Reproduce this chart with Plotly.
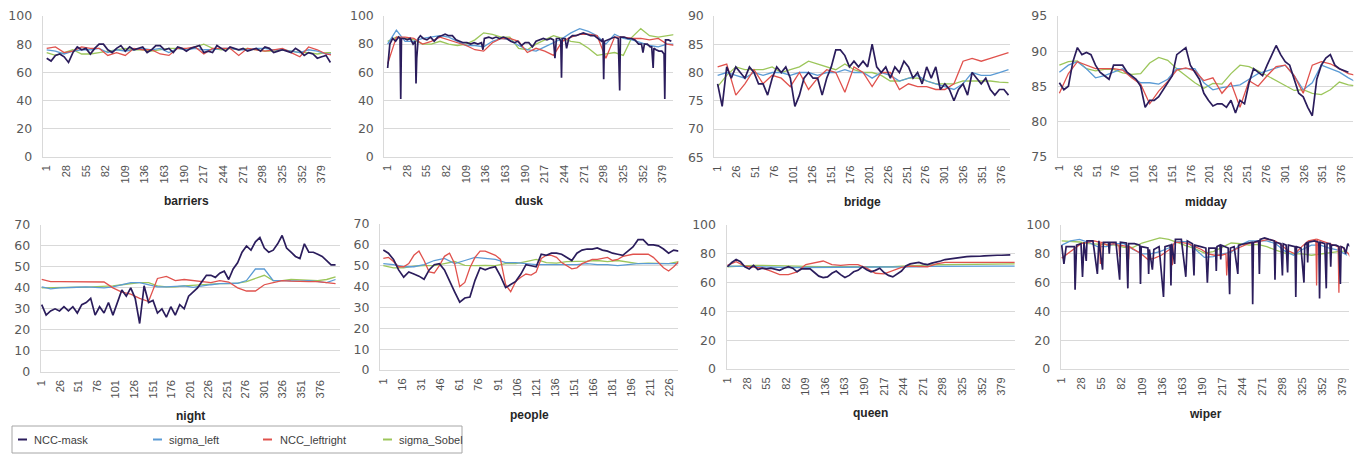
import plotly.graph_objects as go

W, H = 1362, 455
# the page body adds an 8 px margin around the figure; positions below are
# measured on the screenshot, so they are shifted back by that margin
OFF = 8

SERIES = ["NCC-mask", "sigma_left", "NCC_leftright", "sigma_Sobel"]
COLORS = {"NCC-mask": "#2B1D5C", "sigma_left": "#5B9BD5",
          "NCC_leftright": "#E0524D", "sigma_Sobel": "#9CC65B"}

# ---------------- barriers ----------------
barriers_mask = [70, 68, 72, 73, 71, 67, 74, 78, 76, 77, 73, 77, 80, 80, 76, 74, 77, 79, 75, 78,
                 76, 77, 78, 74, 76, 79, 79, 76, 77, 74, 78, 77, 75, 77, 78, 79, 74, 75, 74, 79,
                 77, 75, 78, 77, 76, 77, 75, 76, 77, 75, 78, 77, 74, 75, 76, 75, 74, 77, 75, 72,
                 74, 73, 70, 71, 72, 67]
barriers_left = [76, 75, 73, 75, 76, 76, 77, 74, 76, 75, 76, 77, 76, 77, 74, 77, 76, 77, 76, 76,
                 77, 77, 76, 76, 77, 77, 76, 76, 75, 74, 76, 75, 73, 73]
barriers_lr = [77, 78, 74, 75, 78, 77, 77, 72, 74, 72, 77, 76, 76, 73, 72, 77, 77, 78, 73, 77,
               77, 77, 72, 77, 76, 75, 76, 77, 74, 71, 78, 76, 73, 72]
barriers_sobel = [74, 72, 74, 76, 73, 73, 74, 75, 76, 77, 76, 76, 75, 76, 77, 77, 76, 78, 80, 77,
                  76, 77, 76, 77, 76, 75, 75, 76, 75, 74, 74, 73, 74, 74]

# ---------------- dusk ----------------
dusk_mask_frames = [1, 4, 8, 12, 16, 18, 19, 20, 24, 28, 32, 36, 39, 40, 41, 43, 46, 50, 55, 60,
                    65, 70, 75, 80, 85, 90, 95, 100, 105, 110, 115, 120, 125, 130, 132, 134, 140,
                    145, 150, 155, 160, 165, 170, 175, 180, 185, 190, 195, 200, 205, 210, 215, 220,
                    225, 229, 231, 233, 237, 239, 240, 241, 245, 247, 250, 255, 260, 265, 270, 275,
                    280, 285, 290, 295, 297, 298, 299, 303, 308, 313, 318, 320, 321, 326, 331, 336,
                    341, 346, 350, 352, 354, 358, 362, 364, 366, 367, 370, 374, 378, 381, 382, 383,
                    387, 391]
dusk_mask = [63, 80, 84, 82, 85, 84, 41, 84, 84, 83, 84, 80, 82, 52, 70, 84, 86, 84, 83, 85,
             82, 85, 86, 87, 86, 86, 83, 82, 81, 81, 80, 81, 80, 81, 76, 84, 85,
             84, 85, 84, 85, 84, 82, 81, 82, 79, 81, 81, 78, 82, 83, 84, 83,
             84, 83, 70, 84, 84, 82, 56, 84, 84, 77, 84, 86, 86, 87, 88, 87,
             86, 86, 84, 82, 84, 55, 82, 83, 84, 85, 84, 47, 85, 85, 84, 84,
             83, 80, 80, 74, 80, 80, 78, 78, 63, 77, 76, 75, 75, 73, 41, 83,
             83, 82]
dusk_left = [80, 90, 82, 82, 84, 85, 86, 85, 82, 79, 79, 78, 82, 84, 83, 79, 76, 75, 78, 81,
             84, 88, 91, 89, 86, 80, 87, 84, 83, 81, 79, 78, 80, 80]
dusk_lr = [66, 85, 85, 84, 80, 82, 85, 83, 81, 79, 76, 75, 81, 84, 84, 82, 74, 77, 75, 72,
           82, 85, 87, 87, 86, 70, 85, 85, 84, 84, 83, 84, 80, 79]
dusk_sobel = [82, 85, 84, 83, 80, 80, 82, 80, 79, 80, 83, 88, 87, 85, 85, 77, 76, 80, 83, 86,
              84, 82, 81, 77, 72, 73, 74, 72, 85, 91, 86, 85, 86, 87]

# ---------------- bridge ----------------
bridge_mask = [78, 74, 81, 79, 81, 80, 79, 81, 80, 78, 78, 76, 79, 81, 80, 81, 79, 74, 76, 79,
               80, 79, 79, 76, 79, 81, 84, 84, 83, 81, 82, 81, 82, 81, 85, 81, 80, 81, 79, 81,
               80, 82, 81, 79, 80, 78, 81, 79, 81, 77, 78, 77, 75, 77, 78, 76, 80, 79, 78, 79,
               77, 76, 77, 77, 76]
bridge_left = [79.5, 80, 79.5, 79, 80, 79.5, 80, 80, 79.5, 80, 80, 79.5, 80, 80, 80.5, 80, 80,
               79, 80, 79.5, 78.5, 79, 79.5, 78.5, 78, 77.5, 77, 78, 80, 79.5, 79.5, 80, 80.5]
bridge_lr = [81, 81.5, 76, 78, 80.5, 78, 79.5, 79, 77.5, 80, 77, 79, 80.5, 80, 76.5, 81, 80,
             77.5, 80, 80, 77, 78, 77.5, 77.5, 77, 77, 78, 82, 82.5, 82, 82.5, 83, 83.5]
bridge_sobel = [77.5, 79.5, 81, 80.5, 80.5, 80.5, 81, 80, 80.5, 81, 82, 81.5, 81, 80.5, 81.5,
                80.5, 80, 80, 79.5, 78.5, 78.5, 79, 79, 78.5, 78, 78, 78, 78.5, 78.5, 78.5,
                78.5, 78.3, 78.2]

# ---------------- midday ----------------
midday_mask = [85.5, 84.5, 85, 88.5, 90.5, 89.5, 89.8, 89.5, 88, 87, 86.5, 86, 88, 88, 88, 87,
               86.5, 86, 85, 82, 83, 83, 83.5, 84.5, 85.5, 86.5, 89.5, 90, 90.5, 88, 87, 86, 84,
               83, 82.2, 82.5, 82.5, 82, 83, 81.2, 83, 82.5, 85.5, 87.5, 87, 86.5, 88, 89.5,
               90.8, 89.5, 88.5, 88, 86, 84, 83.5, 82, 80.8, 86, 88, 89, 89.5, 88, 87.5, 87.2, 87]
midday_left = [87, 88, 88.5, 87.5, 86.2, 86.5, 87, 87.5, 86.3, 85.5, 85.5, 85.3, 86, 87.5, 87.5,
               87.5, 85.5, 84.5, 84.8, 85, 85.2, 86, 86.8, 87.2, 87.6, 88, 86.5, 84.5, 85.5, 88,
               87.5, 87, 86.2, 85.5]
midday_lr = [84, 86.8, 88.5, 88, 87.5, 87.5, 87.5, 87.3, 86.2, 85.3, 82.5, 84.3, 85.7, 87.3, 87.6,
             87.2, 85.8, 86.2, 84, 85.5, 82, 85.8, 85, 86.5, 87.8, 88, 86.5, 84, 88, 88.5, 88.2,
             87.5, 86.8, 86.5]
midday_sobel = [88, 88.5, 88.6, 87.5, 87.2, 87.4, 87.4, 86.9, 86.7, 86.8, 88.3, 89.1, 88.7, 87.5,
                86.5, 85.5, 84.7, 85.4, 85.3, 86.8, 88, 87.8, 87.2, 86.5, 85.8, 85.1, 84.4, 84.5,
                84, 83.8, 84.5, 85.6, 85.2, 85]

# ---------------- night ----------------
night_mask = [32, 27, 29, 30, 29, 31, 29, 31, 28, 32, 33, 35, 27, 31, 28, 33, 27, 33, 39, 36,
              40, 35, 23, 41, 33, 34, 28, 30, 26, 31, 27, 32, 30, 36, 38, 40, 43, 46, 46, 45,
              47, 48, 44, 49, 52, 57, 60, 58, 62, 64, 59, 57, 58, 61, 65, 59, 57, 55, 54, 61,
              57, 57, 56, 55, 53, 51, 51]
night_left = [40.5, 39.5, 40, 40, 40.3, 40.5, 40.2, 40, 40.5, 41.5, 42.5, 42.5, 41.5, 40.5, 40.5,
              40.8, 41, 40.2, 41, 41.5, 42, 42, 42.2, 43.5, 49, 49, 43.5, 43.5, 43.2, 43.2, 43.5,
              43, 42.5, 44]
night_lr = [44, 43, 43, 43, 43, 43, 43, 42.8, 40, 38, 37, 35, 33.5, 44.5, 45.5, 43.5, 44, 43.5,
            43, 42.5, 43.5, 42.8, 40, 38.5, 38.5, 41.5, 42.5, 43.5, 43.2, 43, 43, 43, 42.5, 42]
night_sobel = [40, 40, 40, 40.2, 40.3, 40.4, 40.5, 40.6, 41, 41.5, 42, 42.5, 42.5, 41, 40.5, 40.5,
               41, 41.3, 41.5, 41.7, 42, 42, 42.3, 43, 44.5, 46, 43.5, 43.5, 44, 43.8, 43.5, 43.5,
               44, 45.3]

# ---------------- people ----------------
people_mask = [57.5, 56, 53, 48, 44.5, 47, 46, 45, 43.5, 48, 50.5, 51, 48, 42.5, 37.5, 32.5, 34.5,
               35, 43, 49, 48, 49, 49.5, 45, 39.5, 41, 42.5, 46, 50.5, 50, 49.5, 55.5, 55, 56, 56,
               55.5, 54, 52.5, 56, 57.5, 58, 58, 58.5, 57.5, 57, 56, 55.5, 55, 57, 59, 62.5, 62.5,
               60, 60, 59.5, 58, 56, 57.5, 57]
people_lr = [53.5, 54, 52, 49.5, 49.5, 51, 55, 57, 52.5, 47, 46.5, 50, 54.5, 56, 51, 40, 42, 49,
             54, 57, 57, 56, 55, 53, 41, 37.5, 42.5, 44.5, 46, 45.5, 47, 53.5, 55, 55, 54, 51.5,
             50, 48.5, 49, 51, 52, 53, 53, 53.5, 54, 52.5, 53, 54.5, 55, 55.5, 55.5, 55.5, 55.5,
             54, 51.5, 49, 47.5, 49.5, 52]
people_left = [51, 50.5, 49.5, 49.5, 50.5, 52.5, 53.5, 51, 52.5, 54, 53.5, 53, 51.5, 51.5, 51,
               50.5, 50.5, 50.5, 50.5, 50.5, 51, 50.5, 50.5, 50, 50.5, 51, 51, 51, 51, 51]
people_sobel = [50, 49, 49, 49.8, 50, 50, 51, 52, 50.2, 50, 50.2, 50, 51, 51, 52, 53, 51.5, 51.2,
                52, 52, 52.2, 52.5, 52, 52.5, 51.8, 51, 51.2, 51.2, 51, 52]

# ---------------- queen ----------------
queen_mask = [71, 74, 76, 74.5, 71, 69.5, 72, 69, 70, 69.5, 70, 69, 68.5, 70, 71, 70, 67.5, 69.5,
              69.5, 69.5, 67, 64.5, 63.5, 64, 66.5, 68, 65.5, 63.5, 65, 67.5, 68.5, 71, 69, 67.5,
              68.5, 70, 67, 65, 64, 66, 68, 71.5, 73, 73.5, 74, 73, 72.5, 73.5, 74, 75, 76, 76.5,
              77, 77.5, 77.8, 78, 78.2, 78, 78.3, 78.5, 78.8, 78.8, 79, 79, 79.2, 79.3]
queen_left = [71.5, 71.3, 71, 71, 70.8, 70.7, 70.6, 70.5, 70.5, 70.5, 70.5, 70.5, 70.5, 70.5,
              70.5, 70.5, 70.5, 70.5, 70.6, 70.7, 70.8, 71, 71, 71.2, 71.3, 71.4, 71.5, 71.5,
              71.5, 71.5, 71.5, 71.5, 71.5, 71.5]
queen_lr = [72, 74.5, 71.5, 71, 70, 68, 65.5, 65.5, 67.5, 72.5, 74, 75, 72.5, 72, 72.5, 72.5, 70,
            66.5, 66, 68.5, 70.5, 71.5, 71, 71, 73, 74, 74, 74, 74, 74, 74, 74, 74, 74]
queen_sobel = [71, 71.5, 72, 72, 72, 72, 72, 71.8, 71.5, 71.3, 71, 71, 71, 71, 71, 71, 70.8, 70.6,
               70.6, 71, 71.4, 71.8, 72, 72.2, 72.4, 72.5, 72.6, 72.8, 73, 73, 73, 73, 73, 73]

# ---------------- wiper ----------------
wiper_mask_frames = [1, 4, 7, 14, 18, 19, 21, 27, 29, 31, 34, 35, 43, 49, 51, 56, 57, 64, 65, 66,
                     74, 79, 80, 88, 90, 91, 99, 106, 107, 108, 117, 118, 119, 123, 125, 132, 138,
                     140, 147, 148, 149, 153, 154, 162, 168, 170, 177, 179, 180, 188, 195, 197,
                     199, 208, 209, 210, 214, 215, 216, 225, 227, 228, 233, 238, 239, 247, 257,
                     258, 259, 266, 267, 268, 274, 280, 287, 288, 289, 296, 298, 299, 303, 305,
                     306, 315, 316, 317, 323, 327, 328, 331, 332, 333, 341, 347, 348, 349, 355,
                     357, 358, 362, 363, 364, 370, 374, 376, 377, 381, 383, 386, 389]
wiper_mask = [86, 73, 85, 85, 85, 55, 86, 87, 64, 88, 75, 89, 89, 66, 89, 69, 88, 88, 80, 88,
              88, 62, 88, 87.5, 56, 87, 87, 86, 59, 85, 84, 66, 83, 69, 83, 85, 50,
              85, 86, 58, 87, 73, 90, 90, 64, 89, 87, 65, 86, 85, 84, 60,
              84, 84, 68, 85, 86, 76, 86, 84, 52, 84, 85, 66, 86, 87, 88,
              45, 88, 89, 66, 90, 91, 90, 89, 62, 88, 87, 65, 87, 86, 67,
              86, 85, 50, 85, 84, 60, 86, 88, 74, 88, 89, 88, 49, 88, 87,
              56, 87, 87, 71, 86, 86, 85, 59, 85, 84, 80, 87, 85]
wiper_lr_frames = [1, 9, 18, 27, 36, 45, 52, 53, 54, 62, 71, 78, 79, 80, 90, 91, 92, 99, 108, 117,
                   126, 135, 144, 149, 150, 151, 153, 162, 171, 180, 189, 198, 207, 216, 222, 223,
                   224, 225, 234, 243, 252, 261, 270, 279, 288, 297, 306, 315, 324, 333, 343, 344,
                   345, 351, 360, 369, 373, 374, 375, 378, 387, 389]
wiper_lr = [77, 80, 83, 87, 88, 89, 88, 73, 88, 86, 87, 86, 78, 86, 85, 76, 85, 83, 80, 76,
            77, 79, 82, 84, 72, 86, 88, 88, 87, 85, 83, 80, 79, 79, 80, 65,
            80, 81, 83, 85, 87, 88, 89, 90, 89, 86, 82, 80, 85, 89, 90, 58,
            90, 89, 87, 86, 85, 53, 85, 85, 80, 78]
wiper_left = [86, 89, 90, 88, 85, 85, 87, 87, 83, 80, 80, 81.5, 84, 88.5, 88.5, 83, 77.5, 78, 80,
              81, 86, 89, 89, 89, 87, 82, 79, 83, 86, 86, 84, 82.5, 79]
wiper_sobel = [89, 88.7, 88.2, 87, 86.5, 86.2, 86, 84.5, 84.5, 87.5, 89.5, 91, 90, 87.5, 85.5,
               83.5, 80.5, 81.5, 84.5, 87.5, 87, 86, 86.5, 85, 82.5, 80.5, 80, 80, 79, 80, 80.5,
               81.5, 82]


def frames(vals, step):
    return [1 + step * i for i in range(len(vals))]


def px(x):
    return (x - OFF) / W


def py(y):
    return 1 - (y - OFF) / H


TOP1 = 16  # top of the first row of plot areas (leaves room for the top tick labels)

panels = [
    dict(name="barriers", box=(42.7, 331, TOP1, 156.7), xr=(-4.5, 391.8), yr=(0, 100), dt=20,
         ticks=list(range(1, 380, 27)), ty=201,
         data={"NCC-mask": (frames(barriers_mask, 6), barriers_mask),
               "sigma_left": (frames(barriers_left, 12), barriers_left),
               "NCC_leftright": (frames(barriers_lr, 12), barriers_lr),
               "sigma_Sobel": (frames(barriers_sobel, 12), barriers_sobel)}),
    dict(name="dusk", box=(384.3, 673.3, TOP1, 156.5), xr=(-3.6, 393.7), yr=(0, 100), dt=20,
         ticks=list(range(1, 380, 27)), ty=201,
         data={"NCC-mask": (dusk_mask_frames, dusk_mask),
               "sigma_left": (frames(dusk_left, 12), dusk_left),
               "NCC_leftright": (frames(dusk_lr, 12), dusk_lr),
               "sigma_Sobel": (frames(dusk_sobel, 12), dusk_sobel)}),
    dict(name="bridge", box=(714.3, 1010, TOP1, 157.3), xr=(-3.4, 387), yr=(65, 90), dt=5,
         ticks=list(range(1, 377, 25)), ty=201.5,
         data={"NCC-mask": (frames(bridge_mask, 6), bridge_mask),
               "sigma_left": (frames(bridge_left, 12), bridge_left),
               "NCC_leftright": (frames(bridge_lr, 12), bridge_lr),
               "sigma_Sobel": (frames(bridge_sobel, 12), bridge_sobel)}),
    dict(name="midday", box=(1057.7, 1353.3, TOP1, 156.5), xr=(-1.2, 391.5), yr=(75, 95), dt=5,
         ticks=list(range(1, 377, 25)), ty=201.5,
         data={"NCC-mask": (frames(midday_mask, 6), midday_mask),
               "sigma_left": (frames(midday_left, 12), midday_left),
               "NCC_leftright": (frames(midday_lr, 12), midday_lr),
               "sigma_Sobel": (frames(midday_sobel, 12), midday_sobel)}),
    dict(name="night", box=(40.7, 340, 225, 371.7), xr=(-0.35, 403), yr=(0, 70), dt=10,
         ticks=list(range(1, 377, 25)), ty=416,
         data={"NCC-mask": (frames(night_mask, 6), night_mask),
               "sigma_left": (frames(night_left, 12), night_left),
               "NCC_leftright": (frames(night_lr, 12), night_lr),
               "sigma_Sobel": (frames(night_sobel, 12), night_sobel)}),
    dict(name="people", box=(380, 678.3, 224, 370), xr=(-1.6, 232.6), yr=(0, 70), dt=10,
         ticks=list(range(1, 227, 15)), ty=415,
         data={"NCC-mask": (frames(people_mask, 4), people_mask),
               "sigma_left": (frames(people_left, 8), people_left),
               "NCC_leftright": (frames(people_lr, 4), people_lr),
               "sigma_Sobel": (frames(people_sobel, 8), people_sobel)}),
    dict(name="queen", box=(726.5, 1015, 225, 369), xr=(-0.3, 397.5), yr=(0, 100), dt=20,
         ticks=list(range(1, 380, 27)), ty=413,
         data={"NCC-mask": (frames(queen_mask, 6), queen_mask),
               "sigma_left": (frames(queen_left, 12), queen_left),
               "NCC_leftright": (frames(queen_lr, 12), queen_lr),
               "sigma_Sobel": (frames(queen_sobel, 12), queen_sobel)}),
    dict(name="wiper", box=(1060.7, 1349.3, 225, 369), xr=(-0.35, 388), yr=(0, 100), dt=20,
         ticks=list(range(1, 380, 27)), ty=414,
         data={"NCC-mask": (wiper_mask_frames, wiper_mask),
               "sigma_left": (frames(wiper_left, 12), wiper_left),
               "NCC_leftright": (wiper_lr_frames, wiper_lr),
               "sigma_Sobel": (frames(wiper_sobel, 12), wiper_sobel)}),
]

fig = go.Figure()
layout = dict(width=W, height=H, margin=dict(l=0, r=0, t=0, b=0, autoexpand=False),
              paper_bgcolor="white", plot_bgcolor="white", annotations=[], shapes=[],
              showlegend=False)

draw_order = ["sigma_Sobel", "sigma_left", "NCC_leftright", "NCC-mask"]
for i, p in enumerate(panels, start=1):
    xs = "" if i == 1 else str(i)
    l, r, t, b = p["box"]
    layout["xaxis" + xs] = dict(
        domain=[px(l), px(r)], range=list(p["xr"]), anchor="y" + xs,
        tickmode="array", tickvals=p["ticks"], ticktext=[str(v) for v in p["ticks"]],
        tickangle=-90, tickfont=dict(family="Liberation Sans", size=11, color="#505050"),
        showgrid=False, zeroline=False, showline=True, linecolor="#d9d9d9", linewidth=1,
        ticks="", ticklabelstandoff=3, automargin=False, ticklabeloverflow="allow",
        fixedrange=True)
    layout["yaxis" + xs] = dict(
        domain=[py(b), py(t)], range=list(p["yr"]), anchor="x" + xs,
        tick0=p["yr"][0], dtick=p["dt"],
        tickfont=dict(family="DejaVu Sans", size=12.5, color="#595959"),
        showgrid=True, gridcolor="#d9d9d9", gridwidth=1, zeroline=False,
        showline=True, linecolor="#d9d9d9", linewidth=1, ticks="",
        ticklabelstandoff=7, automargin=False, ticklabeloverflow="allow",
        fixedrange=True)
    layout["annotations"].append(dict(
        text="<b>%s</b>" % p["name"], xref="paper", yref="paper",
        x=px((l + r) / 2), y=py(p["ty"]), xanchor="center", yanchor="middle",
        showarrow=False, font=dict(family="Liberation Sans", size=12, color="#262626")))
    for s in draw_order:
        fx, fy = p["data"][s]
        fig.add_trace(go.Scatter(
            x=fx, y=fy, mode="lines", name=s,
            line=dict(color=COLORS[s], width=1.7 if s == "NCC-mask" else 1.3),
            xaxis="x" + xs, yaxis="y" + xs, hoverinfo="skip"))

# legend box at the bottom-left
legend_box = (12, 462, 426, 453)
legend_items = [("NCC-mask", 18, 32), ("sigma_left", 153, 167),
                ("NCC_leftright", 263, 278), ("sigma_Sobel", 383, 397)]
lx0, lx1, ly0, ly1 = legend_box
layout["shapes"].append(dict(type="rect", xref="paper", yref="paper",
                             x0=px(lx0), x1=px(lx1), y0=py(ly1), y1=py(ly0),
                             line=dict(color="#a6a6a6", width=1), fillcolor="white"))
ymid = py((ly0 + ly1) / 2)
for s, sx, tx in legend_items:
    layout["shapes"].append(dict(type="line", xref="paper", yref="paper",
                                 x0=px(sx), x1=px(sx + 9), y0=ymid, y1=ymid,
                                 line=dict(color=COLORS[s], width=2)))
    layout["annotations"].append(dict(
        text=s, xref="paper", yref="paper", x=px(tx), y=ymid, xanchor="left",
        yanchor="middle", showarrow=False,
        font=dict(family="Liberation Sans", size=11, color="#404040")))

fig.update_layout(**layout)
fig.write_html("out.html")
